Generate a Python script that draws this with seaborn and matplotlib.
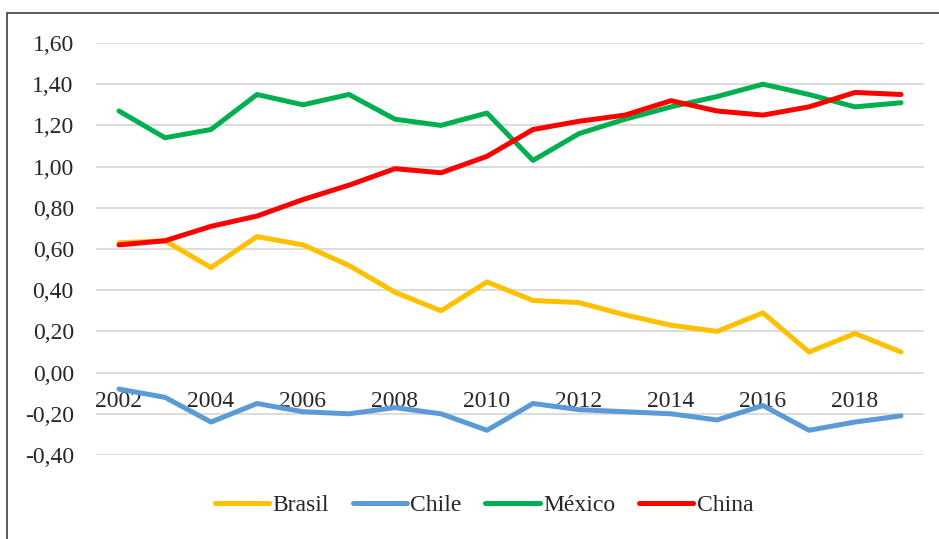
import numpy as np
import pandas as pd
import matplotlib
matplotlib.use("Agg")
import matplotlib.pyplot as plt
from matplotlib.patches import Rectangle
from matplotlib.ticker import FuncFormatter
import seaborn as sns

# data
years = list(range(2002, 2020))
brasil = [0.63, 0.64, 0.51, 0.66, 0.62, 0.52, 0.39, 0.30, 0.44, 0.35,
          0.34, 0.28, 0.23, 0.20, 0.29, 0.10, 0.19, 0.10]
chile = [-0.08, -0.12, -0.24, -0.15, -0.19, -0.20, -0.17, -0.20, -0.28, -0.15,
         -0.18, -0.19, -0.20, -0.23, -0.16, -0.28, -0.24, -0.21]
mexico = [1.27, 1.14, 1.18, 1.35, 1.30, 1.35, 1.23, 1.20, 1.26, 1.03,
          1.16, 1.23, 1.29, 1.34, 1.40, 1.35, 1.29, 1.31]
china = [0.62, 0.64, 0.71, 0.76, 0.84, 0.91, 0.99, 0.97, 1.05, 1.18,
         1.22, 1.25, 1.32, 1.27, 1.25, 1.29, 1.36, 1.35]
series_names = ["Brasil", "Chile", "México", "China"]
colors = ["#FFC000", "#5B9BD5", "#00B050", "#FF0000"]
xtick_years = list(range(2002, 2019, 2))
yticks = [-0.4, -0.2, 0.0, 0.2, 0.4, 0.6, 0.8, 1.0, 1.2, 1.4, 1.6]

sns.set_style("white")
plt.rcParams["font.family"] = ["Liberation Serif", "DejaVu Serif"]

df = pd.DataFrame({
    "year": years * 4,
    "value": brasil + chile + mexico + china,
    "country": np.repeat(series_names, len(years)),
})

fig = plt.figure(figsize=(9.39, 5.39), dpi=100)
ax = fig.add_axes([96 / 939, 1 - 455 / 539, 828 / 939, 412 / 539])

sns.lineplot(data=df, x="year", y="value", hue="country",
             palette=dict(zip(series_names, colors)), hue_order=series_names,
             linewidth=3.6, ax=ax, solid_capstyle="round", solid_joinstyle="round")

ax.set_xlim(2001.5, 2019.5)
ax.set_ylim(-0.4, 1.6)
ax.set_yticks(yticks)
ax.yaxis.set_major_formatter(FuncFormatter(lambda v, p: f"{v:.2f}".replace(".", ",")))
ax.set_xticks(xtick_years)
ax.set_xticklabels([str(y) for y in xtick_years])
ax.grid(axis="y", color="#D9D9D9", linewidth=1.3)
ax.set_axisbelow(True)
for s in ["top", "right", "left"]:
    ax.spines[s].set_visible(False)
ax.spines["bottom"].set_position(("data", 0))
ax.spines["bottom"].set_visible(False)
ax.tick_params(axis="y", length=0, pad=16, labelsize=17)
ax.tick_params(axis="x", length=0, pad=13.5, labelsize=17)
ax.set_xlabel("")
ax.set_ylabel("")

leg = ax.legend(loc="center", bbox_to_anchor=(484 / 939, 1 - 505 / 539),
                bbox_transform=fig.transFigure, ncol=4, frameon=False,
                fontsize=17, handlelength=2.3, handletextpad=0.15,
                columnspacing=1.0)
for line in leg.get_lines():
    line.set_linewidth(3.6)
    line.set_solid_capstyle("round")

# outer chart frame (partly cut off at the right and bottom)
top = 1 - 13 / 539
fig.add_artist(Rectangle((7 / 939, -0.2), 1.2, top + 0.2,
                         transform=fig.transFigure, fill=False,
                         edgecolor="#404040", linewidth=1.2))

fig.savefig("out.png", dpi=100)
